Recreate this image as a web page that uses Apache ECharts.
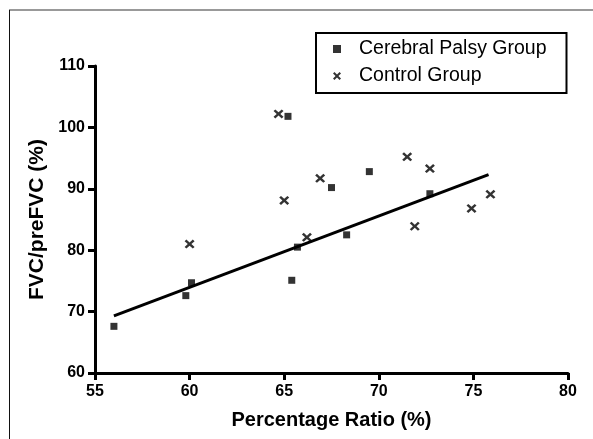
<!DOCTYPE html>
<html>
<head>
<meta charset="utf-8">
<script src="https://cdn.jsdelivr.net/npm/echarts@6/dist/echarts.min.js"></script>
<style>html,body{margin:0;padding:0;background:#fff}#c{width:593px;height:439px}</style>
</head>
<body>
<div id="c"></div>
<script>
const cpX = [56.0, 59.8, 60.1, 65.4, 65.7, 68.3, 67.5, 69.5, 72.7, 65.2];
const cpY = [67.6, 72.6, 74.7, 75.1, 80.5, 82.5, 90.2, 92.8, 89.2, 101.8];
const ctrlX = [64.7, 65.0, 60.0, 66.2, 66.9, 71.5, 72.7, 71.9, 74.9, 75.9];
const ctrlY = [102.2, 88.1, 81.0, 82.1, 91.7, 95.2, 93.3, 83.9, 86.8, 89.1];
const fitX = [56.0, 75.8];
const fitY = [69.3, 92.3];
const xTicks = [55, 60, 65, 70, 75, 80];
const yTicks = [60, 70, 80, 90, 100, 110];

const FONT = 'Liberation Sans, Arial, sans-serif';
const crossPath = 'path://M0,1.8L1.8,0L5,3.2L8.2,0L10,1.8L6.8,5L10,8.2L8.2,10L5,6.8L1.8,10L0,8.2L3.2,5Z';
const zip = (a, b) => a.map((v, i) => [v, b[i]]);

const chart = echarts.init(document.getElementById('c'));
const axisCommon = {
  axisLine: { show: true, onZero: false, lineStyle: { color: '#000', width: 3 } },
  axisTick: { show: true, inside: false, length: 7, lineStyle: { color: '#000', width: 3 } },
  splitLine: { show: false },
  nameLocation: 'middle'
};
chart.setOption({
  animation: false,
  backgroundColor: '#fff',
  grid: { left: 95, right: 25, top: 66, bottom: 66 },
  xAxis: Object.assign({}, axisCommon, {
    type: 'value', min: xTicks[0], max: xTicks[xTicks.length - 1], interval: 5,
    name: 'Percentage Ratio (%)', nameGap: 37,
    nameTextStyle: { fontFamily: FONT, fontWeight: 'bold', fontSize: 20, color: '#000' },
    axisLabel: { margin: 11, fontFamily: FONT, fontWeight: 'bold', fontSize: 16, color: '#000' }
  }),
  yAxis: Object.assign({}, axisCommon, {
    type: 'value', min: yTicks[0], max: yTicks[yTicks.length - 1], interval: 10,
    name: 'FVC/preFVC (%)', nameGap: 47, nameRotate: 90,
    nameTextStyle: { fontFamily: FONT, fontWeight: 'bold', fontSize: 21, color: '#000' },
    axisLabel: { margin: 10, fontFamily: FONT, fontWeight: 'bold', fontSize: 16, color: '#000' }
  }),
  legend: {
    orient: 'vertical', left: 316, top: 33,
    padding: [5, 20, 6, 17], itemGap: 5, itemWidth: 8, itemHeight: 8,
    borderColor: '#000', borderWidth: 2,
    textStyle: { fontFamily: FONT, fontSize: 19.5, color: '#000', lineHeight: 22, padding: [0, 0, 0, 13] },
    data: [
      { name: 'Cerebral Palsy Group', icon: 'rect' },
      { name: 'Control Group', icon: crossPath }
    ]
  },
  graphic: [
    { type: 'line', shape: { x1: 9, y1: 10, x2: 593, y2: 10 }, style: { stroke: '#777', lineWidth: 1.5 } },
    { type: 'line', shape: { x1: 9.5, y1: 10, x2: 9.5, y2: 439 }, style: { stroke: '#111', lineWidth: 1 } }
  ],
  series: [
    {
      name: 'Cerebral Palsy Group', type: 'scatter', symbol: 'rect', symbolSize: 7,
      itemStyle: { color: '#000' }, data: zip(cpX, cpY), z: 3
    },
    {
      name: 'Control Group', type: 'scatter', symbol: crossPath, symbolSize: [10, 9],
      itemStyle: { color: '#000' }, data: zip(ctrlX, ctrlY), z: 3
    },
    {
      name: 'fit', type: 'line', showSymbol: false, symbol: 'none',
      lineStyle: { color: '#000', width: 3 }, data: zip(fitX, fitY), z: 2
    }
  ]
});
</script>
</body>
</html>
